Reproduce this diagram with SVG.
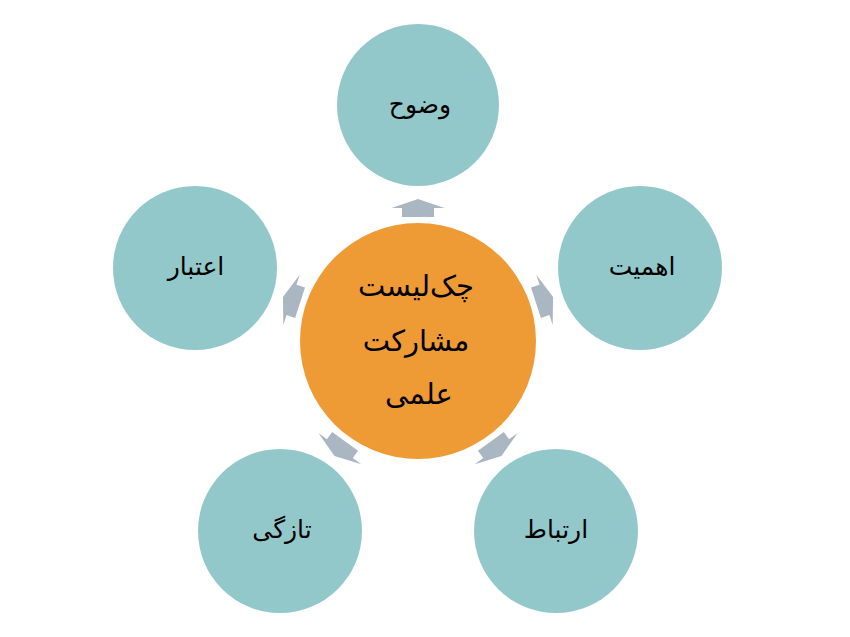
<svg xmlns="http://www.w3.org/2000/svg" width="850" height="637" viewBox="0 0 850 637">
<defs>
<style>
.sat{fill:#93C8CB;}
.hub{fill:#EE9B36;}
.arr{fill:#ABB6C3;}
.t{font-family:"DejaVu Sans","Noto Sans",sans-serif;fill:#000;text-anchor:middle;direction:rtl;}
.ts{font-size:25px;}
.tc{font-size:29px;}
</style>
<path id="arrow" class="arr" d="M418,199 L444.5,208 L434,208 L434,217 L402,217 L402,208 L391.5,208 Z"/>
</defs>
<rect width="850" height="637" fill="#fff"/>
<g id="connectors">
<use href="#arrow"/>
<use href="#arrow" transform="rotate(72 418 341)"/>
<use href="#arrow" transform="rotate(144 418 341)"/>
<use href="#arrow" transform="rotate(216 418 341)"/>
<use href="#arrow" transform="rotate(288 418 341)"/>
</g>
<g id="hub">
<circle class="hub" cx="418" cy="341" r="118"/>
<text class="t tc" x="416" y="296">چک&#x200C;لیست</text>
<text class="t tc" x="416" y="351">مشارکت</text>
<text class="t tc" x="419" y="404">علمی</text>
</g>
<g id="n-vozooh">
<circle class="sat" cx="418" cy="105" r="81"/>
<text class="t ts" x="420" y="113">وضوح</text>
</g>
<g id="n-ahamiyat">
<circle class="sat" cx="640" cy="268" r="82"/>
<text class="t ts" x="642" y="275">اهمیت</text>
</g>
<g id="n-ertebat">
<circle class="sat" cx="556" cy="531" r="82"/>
<text class="t ts" x="556" y="538">ارتباط</text>
</g>
<g id="n-tazegi">
<circle class="sat" cx="280" cy="531" r="82"/>
<text class="t ts" x="282" y="538">تازگی</text>
</g>
<g id="n-etebar">
<circle class="sat" cx="195" cy="268" r="82"/>
<text class="t ts" x="196" y="275">اعتبار</text>
</g>
</svg>
